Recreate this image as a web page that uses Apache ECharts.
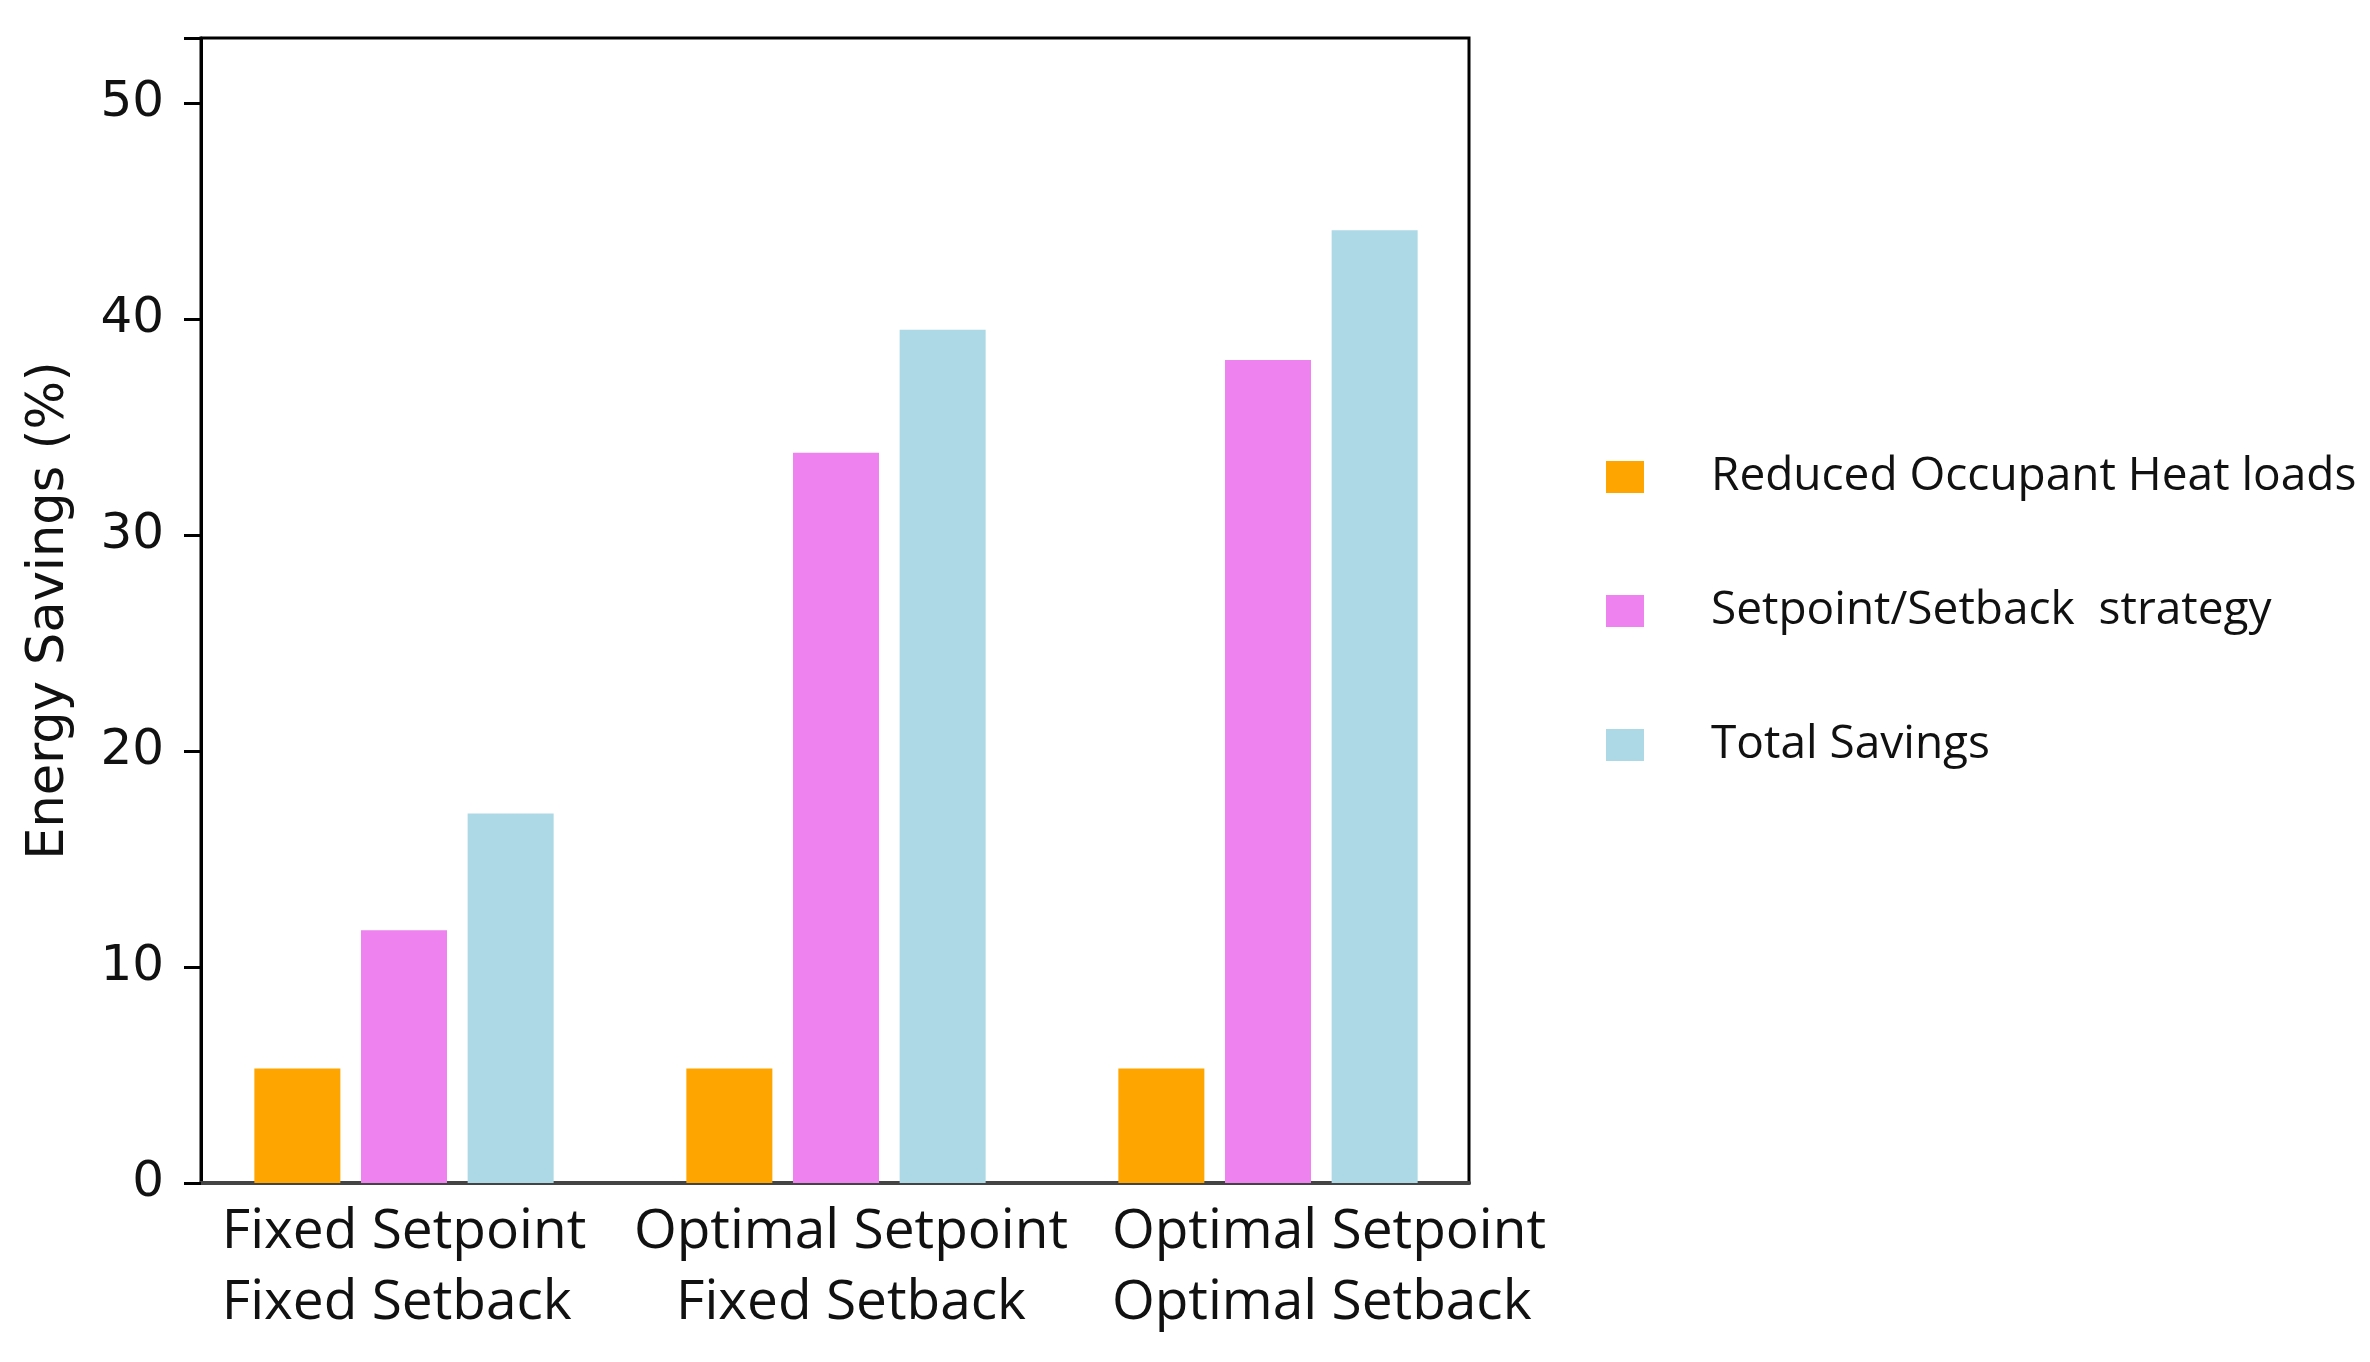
<!DOCTYPE html>
<html>
<head>
<meta charset="utf-8">
<script src="https://cdn.jsdelivr.net/npm/echarts@6/dist/echarts.min.js"></script>
<style>
html,body{margin:0;padding:0;background:#fff;}
#chart{width:2370px;height:1362px;}
</style>
</head>
<body>
<div id="chart"></div>
<script>
const categories = ['Fixed Setpoint\nFixed Setback', 'Optimal Setpoint\nFixed Setback', 'Optimal Setpoint\nOptimal Setback'];
const seriesNames = ['Reduced Occupant Heat loads', 'Setpoint/Setback  strategy', 'Total Savings'];
const occupantValues = [5.3, 5.3, 5.3];
const strategyValues = [11.7, 33.8, 38.1];
const totalValues = [17.1, 39.5, 44.1];
const yTicks = [0, 10, 20, 30, 40, 50];

const chart = echarts.init(document.getElementById('chart'));
const colors = ['#FFA500', '#EE82EE', '#ADD8E6'];
const dataSets = [occupantValues, strategyValues, totalValues];
const labelFont = {fontFamily: 'Open Sans', fontSize: 55, color: '#111', lineHeight: 71};
const labelStyles = ['l0', 'c1', 'l2'];

chart.setOption({
  animation: false,
  grid: [
    {left: 201, right: 901, top: 38, bottom: 179, show: true, borderColor: '#000', borderWidth: 3, backgroundColor: 'transparent'},
    {left: 188, right: 886, top: 38, bottom: 179, show: false}
  ],
  legend: {
    orient: 'vertical', left: 1601, top: 449,
    itemWidth: 38, itemHeight: 32, itemGap: 88,
    icon: 'rect',
    data: seriesNames,
    textStyle: {fontFamily: 'Open Sans', fontSize: 46, color: '#111', padding: [0, 0, 0, 62]}
  },
  xAxis: [
    {
      type: 'category', data: categories, gridIndex: 0,
      axisLine: {lineStyle: {color: '#444', width: 4}},
      axisTick: {show: false},
      axisLabel: {show: false}
    },
    {
      type: 'category', data: categories, gridIndex: 1,
      axisLine: {show: false},
      axisTick: {show: false},
      axisLabel: {
        interval: 0, margin: 14,
        fontFamily: 'Open Sans', fontSize: 55, color: '#111', lineHeight: 71,
        formatter: (v, i) => v.split('\n').map(s => '{' + labelStyles[i] + '|' + s + '}').join('\n'),
        rich: {
          l0: Object.assign({align: 'left'}, labelFont),
          c1: Object.assign({align: 'center', padding: [0, 0, 0, 30]}, labelFont),
          l2: Object.assign({align: 'left', padding: [0, 0, 0, 122]}, labelFont)
        }
      }
    }
  ],
  yAxis: [
    {
      type: 'value', min: 0, max: 53, interval: 10, gridIndex: 0,
      name: 'Energy Savings (%)', nameLocation: 'middle', nameGap: 126,
      nameTextStyle: {fontFamily: 'DejaVu Sans', fontSize: 51, color: '#111'},
      axisLine: {show: true, lineStyle: {color: '#000', width: 3}},
      axisTick: {show: true, length: 17, lineStyle: {color: '#000', width: 3}},
      splitLine: {show: false},
      axisLabel: {fontFamily: 'DejaVu Sans', fontSize: 50, color: '#111', margin: 37,
        formatter: v => yTicks.includes(v) ? String(v) : ''}
    },
    {
      type: 'value', min: 0, max: 53, interval: 10, gridIndex: 1, show: false
    }
  ],
  series: seriesNames.map((n, i) => ({
    name: n, type: 'bar', data: dataSets[i],
    xAxisIndex: 1, yAxisIndex: 1,
    barWidth: 86, barGap: '24%',
    itemStyle: {color: colors[i]}
  }))
});
</script>
</body>
</html>
